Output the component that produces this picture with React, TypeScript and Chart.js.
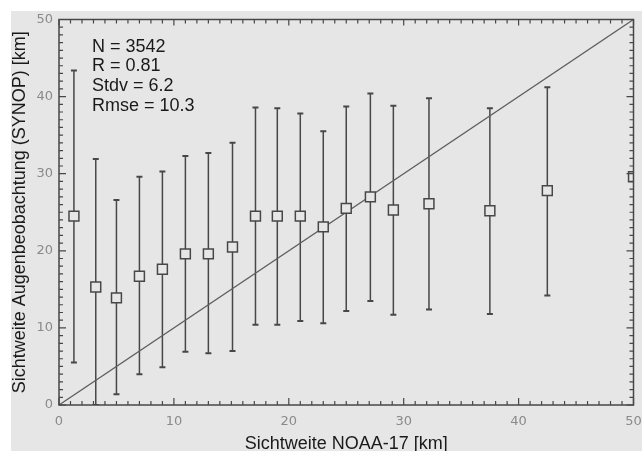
import React, { useEffect, useRef } from "react";
import { Chart, registerables } from "chart.js";

Chart.register(...registerables);

// ---- data ----
const xValues = [1.3, 3.2, 5.0, 7.0, 9.0, 11.0, 13.0, 15.1, 17.1, 19.0, 21.0, 23.0, 25.0, 27.1, 29.1, 32.2, 37.5, 42.5, 50.0];
const meanValues = [24.5, 15.3, 13.9, 16.7, 17.6, 19.6, 19.6, 20.5, 24.5, 24.5, 24.5, 23.1, 25.5, 27.0, 25.3, 26.1, 25.2, 27.8, 29.6];
const upperValues: (number | null)[] = [43.4, 31.9, 26.6, 29.6, 30.3, 32.3, 32.7, 34.0, 38.6, 38.5, 37.8, 35.5, 38.7, 40.4, 38.8, 39.8, 38.5, 41.2, null];
const lowerValues: (number | null)[] = [5.5, 0.0, 1.4, 4.0, 4.9, 6.9, 6.7, 7.0, 10.4, 10.4, 10.9, 10.6, 12.2, 13.5, 11.7, 12.4, 11.8, 14.2, null];
const diagonalX = [0, 50];
const diagonalY = [0, 50];
const statsLines = ["N = 3542", "R = 0.81", "Stdv = 6.2", "Rmse = 10.3"];
const xTitle = "Sichtweite NOAA-17 [km]";
const yTitle = "Sichtweite Augenbeobachtung (SYNOP) [km]";
const axisMin = 0;
const axisMax = 50;
const majorStep = 10;
const minorStep = 1;

const BG = "#e6e6e6";
const AXIS = "#474747";
const TEXT = "#1a1a1a";
const TICK_TEXT = "#8a8a8a";
const SANS = "'Liberation Sans', Arial, Helvetica, sans-serif";

const errorBarPlugin = {
  id: "errorBars",
  beforeDatasetsDraw(chart: any) {
    const { ctx, chartArea, scales } = chart;
    ctx.save();
    ctx.beginPath();
    ctx.rect(chartArea.left, chartArea.top, chartArea.right - chartArea.left, chartArea.bottom - chartArea.top);
    ctx.clip();
    ctx.strokeStyle = AXIS;
    xValues.forEach((xv, i) => {
      const up = upperValues[i];
      const lo = lowerValues[i];
      if (up == null || lo == null) return;
      const px = scales.x.getPixelForValue(xv);
      const pu = scales.y.getPixelForValue(up);
      const pl = scales.y.getPixelForValue(lo);
      ctx.lineWidth = 1.5;
      ctx.beginPath();
      ctx.moveTo(px, pu);
      ctx.lineTo(px, pl);
      ctx.stroke();
      ctx.lineWidth = 2;
      ctx.beginPath();
      ctx.moveTo(px - 3, pu);
      ctx.lineTo(px + 3, pu);
      ctx.moveTo(px - 3, pl);
      ctx.lineTo(px + 3, pl);
      ctx.stroke();
    });
    ctx.restore();
  },
};

const frameAndTextPlugin = {
  id: "frameAndText",
  afterDraw(chart: any) {
    const { ctx, chartArea, scales } = chart;
    const { left, right, top, bottom } = chartArea;
    ctx.save();
    ctx.strokeStyle = AXIS;
    ctx.lineWidth = 1.5;
    ctx.strokeRect(left, top, right - left, bottom - top);
    ctx.lineWidth = 1.2;
    ctx.beginPath();
    for (let v = axisMin; v <= axisMax; v += minorStep) {
      const major = v % majorStep === 0;
      const len = major ? 7 : 4;
      const px = scales.x.getPixelForValue(v);
      ctx.moveTo(px, bottom);
      ctx.lineTo(px, bottom - len);
      ctx.moveTo(px, top);
      ctx.lineTo(px, top + (major ? 6 : 4));
      const py = scales.y.getPixelForValue(v);
      ctx.moveTo(left, py);
      ctx.lineTo(left + len, py);
      ctx.moveTo(right, py);
      ctx.lineTo(right - len, py);
    }
    ctx.stroke();

    ctx.fillStyle = TEXT;
    ctx.font = `18px ${SANS}`;
    ctx.textAlign = "left";
    ctx.textBaseline = "alphabetic";
    statsLines.forEach((t, i) => {
      ctx.fillText(t, left + 33, top + 32 + i * 19.7);
    });
    ctx.restore();
  },
};

export default function App() {
  const canvasRef = useRef<HTMLCanvasElement | null>(null);

  useEffect(() => {
    document.body.style.margin = "0";
    const canvas = canvasRef.current;
    if (!canvas) return;
    const chart = new Chart(canvas, {
      type: "scatter",
      data: {
        datasets: [
          {
            label: "Mittelwert",
            data: xValues.map((x, i) => ({ x, y: meanValues[i] })),
            pointStyle: "rect",
            pointRadius: 7,
            pointHoverRadius: 7,
            borderColor: AXIS,
            backgroundColor: BG,
            borderWidth: 1.5,
            showLine: false,
            clip: 0,
          } as any,
          {
            label: "1:1",
            data: diagonalX.map((x, i) => ({ x, y: diagonalY[i] })),
            showLine: true,
            pointRadius: 0,
            borderColor: "#5e5e5e",
            borderWidth: 1.3,
            fill: false,
          } as any,
        ],
      },
      options: {
        animation: false,
        responsive: false,
        maintainAspectRatio: false,
        layout: { padding: { top: 2, right: 8, left: 0, bottom: 0 } },
        plugins: { legend: { display: false }, tooltip: { enabled: false } },
        scales: {
          x: {
            type: "linear",
            min: axisMin,
            max: axisMax,
            grid: { display: false, drawTicks: false },
            border: { display: false },
            ticks: {
              stepSize: majorStep,
              color: TICK_TEXT,
              font: { family: "'DejaVu Sans', sans-serif", size: 13 },
              padding: 9,
              maxRotation: 0,
            },
            title: {
              display: true,
              text: xTitle,
              color: TEXT,
              font: { family: SANS, size: 18, lineHeight: 0.8 },
              padding: { top: 0, bottom: 0 },
            },
            afterFit(scale: any) {
              scale.height = 46;
              scale.paddingLeft = 0;
              scale.paddingRight = 0;
            },
          },
          y: {
            type: "linear",
            min: axisMin,
            max: axisMax,
            grid: { display: false, drawTicks: false },
            border: { display: false },
            ticks: {
              stepSize: majorStep,
              color: TICK_TEXT,
              font: { family: "'DejaVu Sans', sans-serif", size: 13 },
              padding: 6,
            },
            title: {
              display: true,
              text: yTitle,
              color: TEXT,
              font: { family: SANS, size: 18, lineHeight: 0.8 },
              padding: { top: 2, bottom: 0 },
            },
            afterFit(scale: any) {
              scale.width = 48;
              scale.paddingTop = 0;
              scale.paddingBottom = 0;
            },
          },
        },
      } as any,
      plugins: [errorBarPlugin, frameAndTextPlugin],
    });
    return () => chart.destroy();
  }, []);

  return (
    <div style={{ width: 642, height: 451, background: "#ffffff", position: "relative", overflow: "hidden" }}>
      <canvas
        ref={canvasRef}
        width={631}
        height={440}
        style={{ position: "absolute", left: 11, top: 11, width: 631, height: 440, background: BG }}
      />
    </div>
  );
}
